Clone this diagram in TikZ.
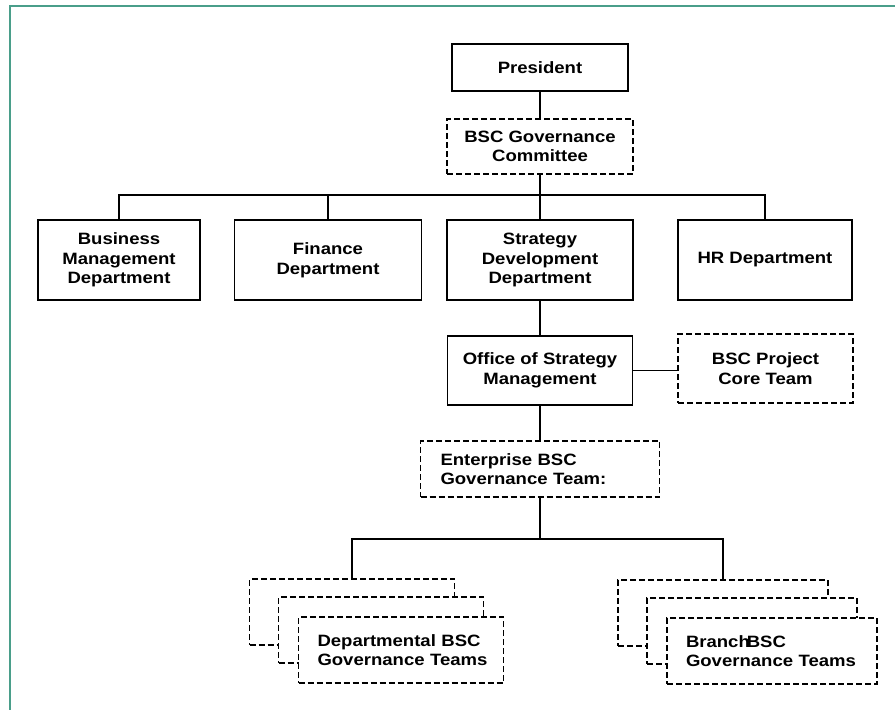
\documentclass[tikz,border=0pt]{standalone}
\usepackage{fontspec}
\setmainfont{Liberation Sans}[FakeStretch=1.13]
\usetikzlibrary{positioning}
\definecolor{framegreen}{RGB}{74,158,138}

\begin{document}
\begin{tikzpicture}[x=1pt,y=-1pt,line width=1.5pt,font=\bfseries\fontsize{16.4}{19.6}\selectfont]
\tikzstyle{box}=[draw,rectangle,fill=white,minimum height=80pt,align=center,inner sep=0pt]
\tikzstyle{dbox}=[box,dash pattern=on 6pt off 3pt]
\tikzstyle{team}=[dbox,minimum height=66pt,align=left,inner xsep=19pt]
\useasboundingbox (0,0) rectangle (895,710);
\draw[framegreen,line width=2pt] (9.5,710) -- (9.5,5.5) -- (895,5.5);
% top of the chart
\node[box,minimum width=176pt,minimum height=47pt] (pres) at (540,67.5) {President};
\node[dbox,minimum width=186pt,minimum height=55pt] (gov) at (540,146.5) {BSC Governance\\Committee};
% departments
\node[box,minimum width=162pt] (bus) at (119,260) {Business\\Management\\Department};
\node[box,minimum width=187pt] (fin) at (328,260) {Finance\\Department};
\node[box,minimum width=186pt] (sdd) at (540,260) {Strategy\\Development\\Department};
\node[box,minimum width=174pt] (hr) at (765,260) {HR Department};
\node[box,minimum width=185pt,minimum height=69pt] (osm) at (540,370.5) {Office of Strategy\\Management};
\node[dbox,minimum width=175pt,minimum height=69pt] (core) at (765.5,368.5) {BSC Project\\Core Team};
\node[dbox,minimum height=56pt,text width=199pt,align=left,inner xsep=20pt] (ent) at (540,469) {Enterprise BSC\\Governance Team:};
% stacked teams
\node[team,text width=167pt] (dep3) at (352,612) {};
\node[team,text width=167pt] (dep2) at (381,630) {};
\node[team,text width=167pt] (dep1) at (401,650) {\mbox{Departmental BSC}\\\mbox{Governance Teams}};
\node[team,text width=172pt] (br3) at (723,613) {};
\node[team,text width=172pt] (br2) at (752,631) {};
\node[team,text width=172pt] (br1) at (772,651) {\mbox{Branch\kern-3pt BSC}\\\mbox{Governance Teams}};
% connectors
\coordinate (j1) at (540,195);
\coordinate (j2) at (540,539);
\draw (pres) -- (gov);
\draw (gov) -- (j1);
\draw (bus.north) |- (j1) -| (hr.north);
\draw (fin) -- (fin |- j1);
\draw (j1) -- (sdd);
\draw (sdd) -- (osm);
\draw (osm.east) -- (osm.east -| core.west);
\draw (osm) -- (ent);
\draw (ent) -- (j2);
\draw (dep3.north) |- (j2) -| (br3.north);
\end{tikzpicture}
\end{document}
